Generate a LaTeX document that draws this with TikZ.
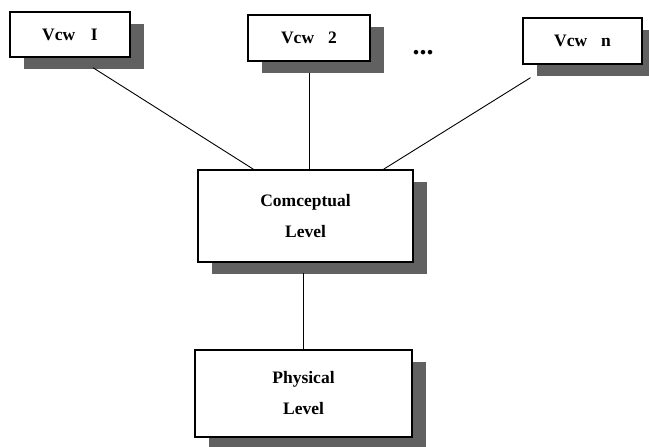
\documentclass[tikz,border=0pt]{standalone}
\usepackage{fontspec}
\setmainfont{Liberation Serif}
\usetikzlibrary{shadows}
\begin{document}
\begin{tikzpicture}[x=1pt,y=-1pt,
  box/.style={draw=black,line width=1.4pt,fill=white,inner sep=0pt,
    font=\fontsize{17.5}{31}\selectfont\bfseries,align=center,
    drop shadow={shadow xshift=14pt,shadow yshift=-12pt,fill=black!62,opacity=1}},
  link/.style={line width=0.9pt}]
\useasboundingbox (0,0) rectangle (649,447);
\node[box,minimum width=120pt,minimum height=45pt] (v1) at (70,34.5) {Vcw\hspace{0.9em}I};
\node[box,minimum width=122pt,minimum height=46pt] (v2) at (309,38) {Vcw\hspace{0.8em}2};
\node[box,minimum width=119pt,minimum height=46pt] (vn) at (582.5,41) {Vcw\hspace{0.8em}n};
\node[font=\fontsize{28}{28}\selectfont\bfseries] (dots) at (423,53) {...};
\node[box,minimum width=215pt,minimum height=92pt] (cl) at (305.5,216) {Comceptual\\Level};
\node[box,minimum width=217pt,minimum height=87pt] (pl) at (303.5,393.5) {Physical\\Level};
\draw[link] ([xshift=23pt,yshift=-10pt]v1.south) -- ([xshift=-52pt]cl.north);
\draw[link] ([yshift=-11pt]v2.south) -- (v2.south |- cl.north);
\draw[link] ([xshift=-52pt,yshift=-13pt]vn.south) -- ([xshift=78pt]cl.north);
\draw[link] ([yshift=-10pt]pl.north |- cl.south) -- (pl.north);
\end{tikzpicture}
\end{document}
